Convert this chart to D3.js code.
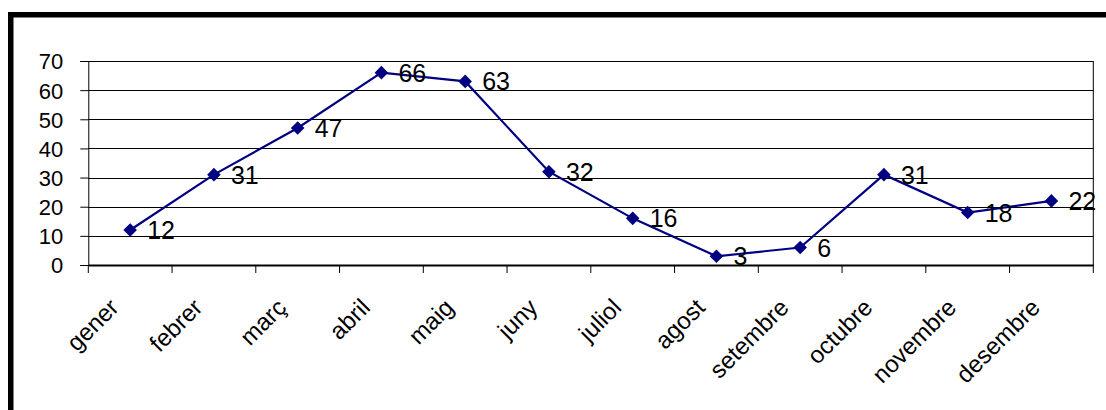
<!DOCTYPE html>
<html>
<head>
<meta charset="utf-8">
<script src="https://cdn.jsdelivr.net/npm/d3@7/dist/d3.min.js"></script>
<style>
  html, body { margin: 0; padding: 0; background: #fff; }
  svg { display: block; }
  text { font-family: "Liberation Sans", Arial, sans-serif; fill: #000; }
</style>
</head>
<body>
<script>
const months = ["gener","febrer","març","abril","maig","juny","juliol","agost","setembre","octubre","novembre","desembre"];
const values = [12, 31, 47, 66, 63, 32, 16, 3, 6, 31, 18, 22];
const yTicks = [0, 10, 20, 30, 40, 50, 60, 70];

(function () {
const W = 1106, H = 410;
const svg = d3.select("body").append("svg").attr("width", W).attr("height", H);

svg.append("rect").attr("x", 0).attr("y", 0).attr("width", W).attr("height", H).attr("fill", "#fff");

// outer chart border (cut off at right and bottom)
svg.append("rect")
  .attr("x", 10.75).attr("y", 14.75)
  .attr("width", 1300).attr("height", 600)
  .attr("fill", "none").attr("stroke", "#000").attr("stroke-width", 5.5);

const pLeft = 88.3, pRight = 1093.3, pTop = 61, pBottom = 265;

const x = d3.scaleBand().domain(months).range([pLeft, pRight]).padding(0);
const y = d3.scaleLinear().domain([0, 70]).range([pBottom, pTop]);

// gridlines
svg.append("g").selectAll("line").data(yTicks.filter(d => d > 0)).join("line")
  .attr("x1", pLeft).attr("x2", pRight)
  .attr("y1", d => Math.round(y(d)) + 0.5).attr("y2", d => Math.round(y(d)) + 0.5)
  .attr("stroke", "#000").attr("stroke-width", 1);

// right border of plot
svg.append("line").attr("x1", pRight).attr("x2", pRight).attr("y1", pTop).attr("y2", pBottom)
  .attr("stroke", "#000").attr("stroke-width", 1);

// y axis
const yAxis = d3.axisLeft(y).tickValues(yTicks).tickSize(8).tickPadding(17);
const gy = svg.append("g").attr("transform", `translate(${pLeft},0)`).call(yAxis);
gy.select(".domain").attr("stroke", "#000").attr("stroke-width", 1);
gy.selectAll(".tick line").attr("stroke", "#000");
gy.selectAll(".tick text").style("font-size", "22px").attr("dy", "0.36em");

// x axis
const xAxis = d3.axisBottom(x).tickSize(0).tickFormat("");
const gx = svg.append("g").attr("transform", `translate(0,${pBottom})`).call(xAxis);
gx.select(".domain").attr("stroke", "#000").attr("stroke-width", 2.2);
const bounds = months.map(m => x(m)).concat([pRight]);
gx.append("g").selectAll("line").data(bounds).join("line")
  .attr("x1", d => d).attr("x2", d => d).attr("y1", 0).attr("y2", 8)
  .attr("stroke", "#000").attr("stroke-width", 1);

// x labels rotated
svg.append("g").selectAll("text").data(months).join("text")
  .attr("transform", d => `translate(${x(d) + x.bandwidth() / 2 - 10},${pBottom + 44}) rotate(-45)`)
  .attr("text-anchor", "end")
  .style("font-size", "24px")
  .text(d => d);

// line
const cx = (d, i) => x(months[i]) + x.bandwidth() / 2;
const line = d3.line().x((d, i) => cx(d, i)).y(d => y(d));
svg.append("path").datum(values)
  .attr("d", line)
  .attr("fill", "none").attr("stroke", "#000080").attr("stroke-width", 2.2);

// markers (diamonds)
svg.append("g").selectAll("path").data(values).join("path")
  .attr("d", d3.symbol().type(d3.symbolSquare).size(92))
  .attr("transform", (d, i) => `translate(${cx(d, i)},${y(d)}) rotate(45)`)
  .attr("fill", "#000080");

// data labels
svg.append("g").selectAll("text").data(values).join("text")
  .attr("x", (d, i) => cx(d, i) + 17)
  .attr("y", d => y(d))
  .attr("dy", "0.36em")
  .style("font-size", "25px")
  .text(d => d);
})();
</script>
</body>
</html>
